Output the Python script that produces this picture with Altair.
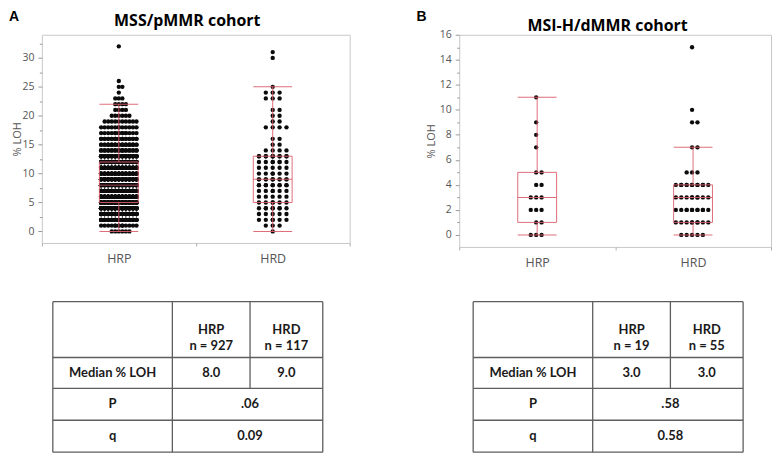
import altair as alt
import pandas as pd

# ---------------- data ----------------
groups = ["HRP", "HRD"]

# Panel A : MSS/pMMR cohort  (% LOH value -> number of tumours with that value)
A_hrp_vals = list(range(0, 27)) + [32]
A_hrp_counts = [6, 14, 50, 60, 69, 75, 78, 78, 70, 65,
                60, 58, 50, 45, 35, 30, 25, 15, 12, 10,
                6, 4, 4, 3, 1, 2, 1, 1]
A_hrd_vals = [0, 1, 2, 3, 4, 5, 6, 7, 8, 9, 10, 11, 12, 13, 14, 15, 16,
              18, 19, 20, 21, 23, 24, 25, 30, 31]
A_hrd_counts = [1, 3, 6, 5, 8, 6, 5, 6, 10, 11, 6, 5, 7, 11, 4, 2, 2,
                4, 2, 2, 2, 3, 3, 1, 1, 1]
# box statistics: lower whisker, Q1, median, Q3, upper whisker
A_hrp_box = [0, 5, 8, 12, 22]
A_hrd_box = [0, 5, 9, 13, 25]

# Panel B : MSI-H/dMMR cohort
B_hrp_vals = [0, 1, 2, 3, 4, 5, 7, 8, 9, 11]
B_hrp_counts = [3, 2, 3, 3, 2, 2, 1, 1, 1, 1]
B_hrd_vals = [0, 1, 2, 3, 4, 5, 7, 9, 10, 15]
B_hrd_counts = [5, 9, 11, 9, 12, 3, 2, 2, 1, 1]
B_hrp_box = [0, 1, 3, 5, 11]
B_hrd_box = [0, 1, 3, 4, 7]

# tables
A_n = [927, 117]
A_median = ["8.0", "9.0"]
A_p = ".06"
A_q = "0.09"
B_n = [19, 55]
B_median = ["3.0", "3.0"]
B_p = ".58"
B_q = "0.58"

RED = "#dc5f6d"
TAB_Y = [268, 324, 355, 387, 419]


def swarm(vals, counts, group, d, wmax):
    """deterministic side-by-side placement of equal values"""
    k = int(wmax // d)
    slots = [0]
    for j in range(1, k + 1):
        slots += [j, -j]
    rows = []
    for v, c in zip(vals, counts):
        for i in range(c):
            rows.append({"group": group, "loh": v, "off": slots[i % len(slots)] * d})
    return rows


def panel(letter, title, data, boxes, n, med, p, q, W, H, ydom, major, minor,
          spacing, letter_x, title_x, title_y, tab_x, ytitle_x):
    pts = []
    for g, (vals, counts), (d, wm) in zip(groups, data, spacing):
        pts += swarm(vals, counts, g, d, wm)
    pts = pd.DataFrame(pts)
    box = pd.DataFrame({
        "group": groups,
        "lo": [b[0] for b in boxes],
        "q1": [b[1] for b in boxes],
        "med": [b[2] for b in boxes],
        "q3": [b[3] for b in boxes],
        "hi": [b[4] for b in boxes],
    })
    bw = W / 2
    xsc = alt.Scale(domain=groups, paddingInner=0, paddingOuter=0)
    ysc = alt.Scale(domain=ydom, nice=False, zero=False)
    xax = alt.Axis(title=None, labelAngle=0, tickBand="extent", domain=False,
                   tickSize=3, labelPadding=7, labelFontSize=12.5, labelColor="#555",
                   tickColor="#aaa")
    yax = alt.Axis(title="% LOH", values=major, domain=False, grid=False, tickSize=4,
                   labelPadding=4, titleX=ytitle_x, titlePadding=0, labelOverlap=False)

    def X():
        return alt.X("group:N", scale=xsc, axis=xax, sort=groups)

    def Y(f):
        return alt.Y(f, scale=ysc, axis=yax)

    points = alt.Chart(pts).mark_circle(size=19, color="#0b0b0b", opacity=1).encode(
        x=X(),
        xOffset=alt.XOffset("off:Q", scale=alt.Scale(domain=[-bw / 2, bw / 2])),
        y=Y("loh:Q"),
    )
    base = alt.Chart(box).encode(x=X())
    bx = base.mark_bar(size=39, filled=False, color=RED, strokeWidth=1, opacity=0.9).encode(
        y=Y("q1:Q"), y2="q3:Q")
    w1 = base.mark_rule(color=RED, strokeWidth=1, opacity=0.9).encode(y=Y("lo:Q"), y2="q1:Q")
    w2 = base.mark_rule(color=RED, strokeWidth=1, opacity=0.9).encode(y=Y("q3:Q"), y2="hi:Q")
    md = base.mark_tick(size=39, thickness=1, color=RED, opacity=0.9).encode(y=Y("med:Q"))
    c1 = base.mark_tick(size=39, thickness=1, color=RED, opacity=0.9).encode(y=Y("lo:Q"))
    c2 = base.mark_tick(size=39, thickness=1, color=RED, opacity=0.9).encode(y=Y("hi:Q"))

    lab = alt.Chart(pd.DataFrame({"t": [letter]})).mark_text(
        align="left", baseline="top", font="Liberation Sans", fontWeight="bold",
        fontSize=14, color="#000").encode(
        x=alt.value(letter_x), y=alt.value(-25), text="t:N")
    ttl = alt.Chart(pd.DataFrame({"t": [title]})).mark_text(
        align="center", baseline="top", font="Open Sans", fontWeight="bold",
        fontSize=16, color="#000").encode(
        x=alt.value(title_x), y=alt.value(title_y), text="t:N")

    plot = alt.layer(points, bx, w1, w2, md, c1, c2, lab, ttl)

    minor_layer = alt.Chart(pd.DataFrame({"m": minor})).mark_point(opacity=0).encode(
        y=alt.Y("m:Q", scale=alt.Scale(domain=ydom, nice=False, zero=False),
                axis=alt.Axis(values=minor, labels=False, tickSize=2.5, domain=False,
                              grid=False, title=None, orient="left")))

    cells = pd.DataFrame({
        "text": [f"HRP\nn = {n[0]}", f"HRD\nn = {n[1]}", "Median % LOH", med[0], med[1],
                 "P", p, "q", q],
        "cx": [1.5, 2.5, 0.5, 1.5, 2.5, 0.5, 2.0, 0.5, 2.0],
        "cy": [0.5, 0.5, 1.5, 1.5, 1.5, 2.5, 2.5, 3.5, 3.5],
    })
    lines = pd.DataFrame({
        "x": [0, 0, 0, 0, 0, 0, 1, 2, 3],
        "x2": [3, 3, 3, 3, 3, 0, 1, 2, 3],
        "y": [0, 1, 2, 3, 4, 0, 0, 0, 0],
        "y2": [0, 1, 2, 3, 4, 4, 4, 2, 4],
    })
    tx = alt.Scale(domain=[0, 1, 2, 3], range=tab_x, nice=False, zero=False)
    ty = alt.Scale(domain=[0, 1, 2, 3, 4], range=TAB_Y, nice=False, zero=False)
    tlines = alt.Chart(lines).mark_rule(color="#5e5e5e", strokeWidth=1.3).encode(
        x=alt.X("x:Q", scale=tx, axis=None), x2="x2:Q",
        y=alt.Y("y:Q", scale=ty, axis=None), y2="y2:Q")
    ttext = alt.Chart(cells).mark_text(
        font="Lato", fontWeight="bold", fontSize=13, lineBreak="\n", lineHeight=16.5,
        color="#1a1a1a", baseline="middle").encode(
        x=alt.X("cx:Q", scale=tx, axis=None),
        y=alt.Y("cy:Q", scale=ty, axis=None),
        text="text:N")
    table = alt.layer(tlines, ttext)

    return alt.layer(plot, minor_layer, table).resolve_scale(
        x="independent", y="independent").properties(width=W, height=H)


panelA = panel("A", "MSS/pMMR  cohort",
               [(A_hrp_vals, A_hrp_counts), (A_hrd_vals, A_hrd_counts)],
               [A_hrp_box, A_hrd_box], A_n, A_median, A_p, A_q,
               309, 209, [-2, 34], [0, 5, 10, 15, 20, 25, 30],
               [2.5, 7.5, 12.5, 17.5, 22.5, 27.5, 32.5],
               [(3.6, 19), (7, 18)], -33, 146, -22, [11, 131, 209, 282], -19)

panelB = panel("B", "MSI-H/dMMR  cohort",
               [(B_hrp_vals, B_hrp_counts), (B_hrd_vals, B_hrd_counts)],
               [B_hrp_box, B_hrd_box], B_n, B_median, B_p, B_q,
               313, 213, [-0.96, 16], [0, 2, 4, 6, 8, 10, 12, 14, 16],
               [1, 3, 5, 7, 9, 11, 13, 15],
               [(5.5, 18), (5.5, 18)], -43, 149, -17, [14, 134, 212, 285], -23)

chart = alt.hconcat(panelA, panelB, spacing=65).properties(padding=0).configure_view(
    stroke="#c8c8c8", strokeWidth=1
).configure_axis(
    labelFont="Open Sans", titleFont="Open Sans", labelColor="#555", titleColor="#555",
    tickColor="#999", labelFontSize=10.5, titleFontSize=11, titleFontWeight="normal"
)

chart.save("out.html", embed_options={"renderer": "svg", "actions": False})
